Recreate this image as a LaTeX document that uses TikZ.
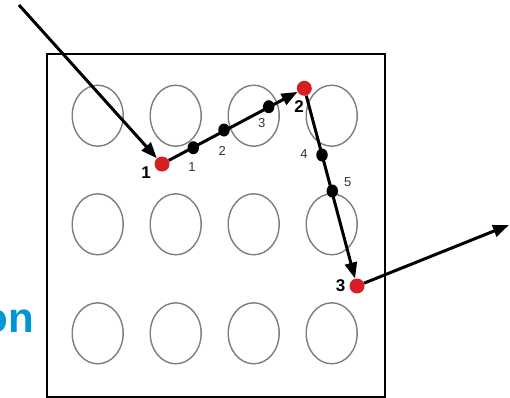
\documentclass[tikz,border=0pt]{standalone}
\usepackage{fontspec}
\setmainfont{Liberation Sans}
\usetikzlibrary{arrows.meta,shapes.geometric}
\definecolor{titleblue}{RGB}{0,150,214}
\definecolor{holegray}{RGB}{125,125,125}
\definecolor{dotred}{RGB}{215,30,35}
\tikzset{
  holeline/.style={draw=holegray, line width=1.4pt},
  reddot/.style={circle, fill=dotred, inner sep=0pt, minimum size=15pt},
  blackdot/.style={ellipse, fill=black, inner sep=0pt, minimum width=11.5pt, minimum height=13pt},
  bignum/.style={font=\fontsize{17}{17}\selectfont\bfseries, inner sep=0pt},
  smallnum/.style={font=\fontsize{13}{13}\selectfont, text=black!80, inner sep=0pt},
  route/.style={line width=3pt, -{Triangle[length=16pt,width=12pt]}},
}
\begin{document}
\begin{tikzpicture}[x=1pt,y=-1pt]
\useasboundingbox (0,0) rectangle (510,397);
% frame
\node[draw=black, line width=1.5pt, minimum width=338pt, minimum height=343pt, anchor=north west, inner sep=0pt] (frame) at (46,53) {};
% holes
\foreach \c in {97.7,175.7,253.7,331.7}{
  \foreach \r in {115.7,224.3,333.3}{
    \draw[holeline] (\c,\r) ellipse [x radius=25.5, y radius=30.5];
  }
}
% title fragment
\node[font=\fontsize{42}{42}\selectfont\bfseries, text=titleblue, anchor=base east, inner sep=0pt] (title) at (34.5,332) {on};
% points
\coordinate (start) at (19,5);
\coordinate (finish) at (509,225);
\node[reddot] (p1) at (162,164) {};
\node[reddot] (p2) at (304.3,88.3) {};
\node[reddot] (p3) at (357,286) {};
\node[blackdot] (d1) at (193.3,147.7) {};
\node[blackdot] (d2) at (224,130) {};
\node[blackdot] (d3) at (268.7,106.7) {};
\node[blackdot] (d4) at (322,155) {};
\node[blackdot] (d5) at (332.3,191) {};
% connectors
\draw[route] (start) -- (p1);
\draw[route] (p1) -- (p2);
\draw[route] (p2) -- (p3);
\draw[route] (p3) -- (finish);
% labels
\node[bignum] (l1) at (146,173) {1};
\node[bignum] (l2) at (299,107) {2};
\node[bignum] (l3) at (340.7,286) {3};
\node[smallnum] (s1) at (192,167) {1};
\node[smallnum] (s2) at (222.3,151) {2};
\node[smallnum] (s3) at (261.7,123.3) {3};
\node[smallnum] (s4) at (304,154.3) {4};
\node[smallnum] (s5) at (347.7,182) {5};
\end{tikzpicture}
\end{document}
